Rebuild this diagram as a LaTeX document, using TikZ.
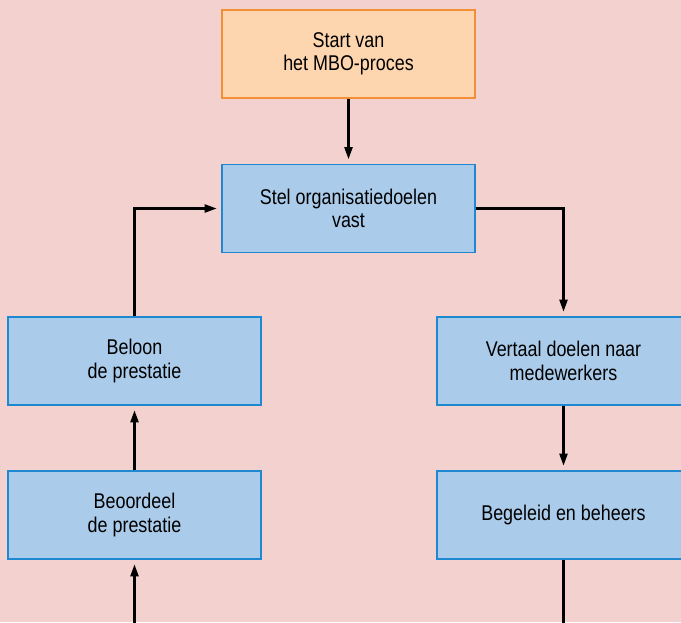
\documentclass[tikz,border=0pt]{standalone}
\usepackage{fontspec}
\setmainfont{Liberation Sans}[FakeStretch=0.84]
\usetikzlibrary{arrows.meta}
\definecolor{bgpink}{HTML}{F2D1CF}
\definecolor{bluefill}{HTML}{AACBEA}
\definecolor{blueline}{HTML}{1E88D0}
\definecolor{orfill}{HTML}{FDD6AF}
\definecolor{orline}{HTML}{F39035}
\tikzset{
  box/.style={draw=blueline, fill=bluefill, line width=1pt, minimum width=189.75pt, minimum height=66pt,
    align=center, inner sep=0pt, font=\fontsize{16}{17.5}\selectfont},
  startbox/.style={box, draw=orline, fill=orfill},
  conn/.style={line width=1.6pt, black, -{Triangle[length=9pt,width=6pt]}, shorten >=3.5pt},
  plainconn/.style={line width=1.6pt, black},
}
\begin{document}
\begin{tikzpicture}[x=0.75pt,y=-0.75pt]
\useasboundingbox (0,0) rectangle (681,622);
\clip (0,0) rectangle (681,622);
\fill[bgpink] (0,0) rectangle (681,622);
\node[startbox] (start) at (348.5,54) {Start van\\het MBO-proces};
\node[box] (stel) at (348.5,208.5) {Stel organisatiedoelen\\vast};
\node[box] (beloon) at (134.5,361) {Beloon\\de prestatie};
\node[box] (beoordeel) at (134.5,515) {Beoordeel\\de prestatie};
\node[box] (vertaal) at (563.5,361) {Vertaal doelen naar\\medewerkers};
\node[box] (begeleid) at (563.5,515) {Begeleid en beheers};
\coordinate (bl) at (134.5,640);
\coordinate (br) at (563.5,640);
\draw[conn] (start) -- (stel);
\draw[conn] (beloon.north) |- (stel.west);
\draw[conn] (beoordeel) -- (beloon);
\draw[conn] (bl) -- (beoordeel.south);
\draw[conn] (stel.east) -| (vertaal.north);
\draw[conn] (vertaal) -- (begeleid);
\draw[plainconn] (begeleid.south) -- (br);
\end{tikzpicture}
\end{document}
